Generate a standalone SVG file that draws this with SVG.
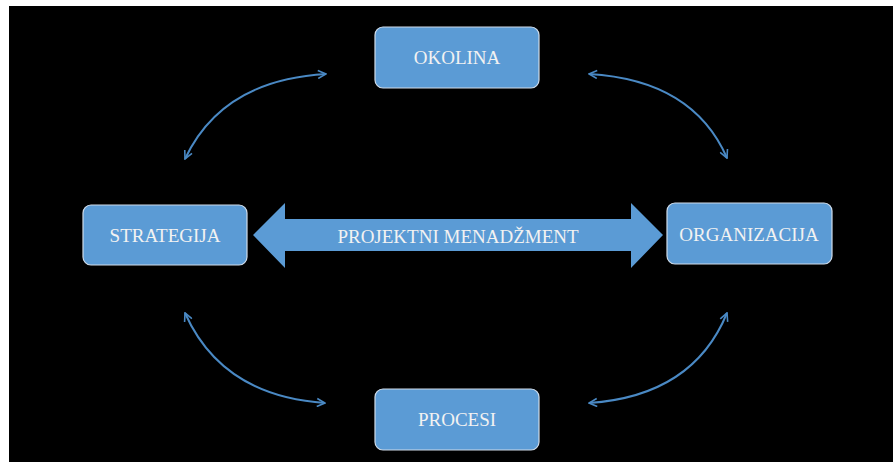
<svg xmlns="http://www.w3.org/2000/svg" width="893" height="462" viewBox="0 0 893 462">
<defs>
<style>
.box{fill:#5b9bd5;stroke:#d0dcea;stroke-width:1.2}
.lbl{font-family:"Liberation Serif","Times New Roman",serif;font-size:19px;fill:#f2f2f2;text-anchor:middle;dominant-baseline:central}
.arc{fill:none;stroke:#4a89c4;stroke-width:2}
</style>
<marker id="ah" viewBox="0 0 10 10" refX="9" refY="5" markerWidth="5" markerHeight="5" orient="auto-start-reverse" markerUnits="strokeWidth">
<path d="M1,1 L9,5 L1,9" fill="none" stroke="#4a89c4" stroke-width="1.6"/>
</marker>
</defs>
<rect x="0" y="0" width="893" height="462" fill="#ffffff"/>
<rect x="9" y="6" width="884" height="456" fill="#000000"/>
<g id="connectors">
<path class="arc" d="M185,159 Q222,80 326,74" marker-start="url(#ah)" marker-end="url(#ah)"/>
<path class="arc" d="M589,74 Q693,80 727,158" marker-start="url(#ah)" marker-end="url(#ah)"/>
<path class="arc" d="M185,313 Q222,396 325,403" marker-start="url(#ah)" marker-end="url(#ah)"/>
<path class="arc" d="M727,313 Q693,396 589,403" marker-start="url(#ah)" marker-end="url(#ah)"/>
<g id="projektni">
<polygon points="253,235 285,203 285,219 631,219 631,203 663,235 631,268 631,251 285,251 285,268" fill="#5b9bd5"/>
<text class="lbl" x="458" y="236">PROJEKTNI MENADŽMENT</text>
</g>
</g>
<g id="okolina">
<rect class="box" x="375" y="27" width="164" height="61" rx="8"/>
<text class="lbl" x="457" y="57">OKOLINA</text>
</g>
<g id="strategija">
<rect class="box" x="83" y="205" width="164" height="60" rx="8"/>
<text class="lbl" x="165" y="235">STRATEGIJA</text>
</g>
<g id="organizacija">
<rect class="box" x="667" y="203" width="165" height="61" rx="8"/>
<text class="lbl" x="749" y="234">ORGANIZACIJA</text>
</g>
<g id="procesi">
<rect class="box" x="375" y="389" width="164" height="61" rx="8"/>
<text class="lbl" x="457" y="419">PROCESI</text>
</g>
</svg>
